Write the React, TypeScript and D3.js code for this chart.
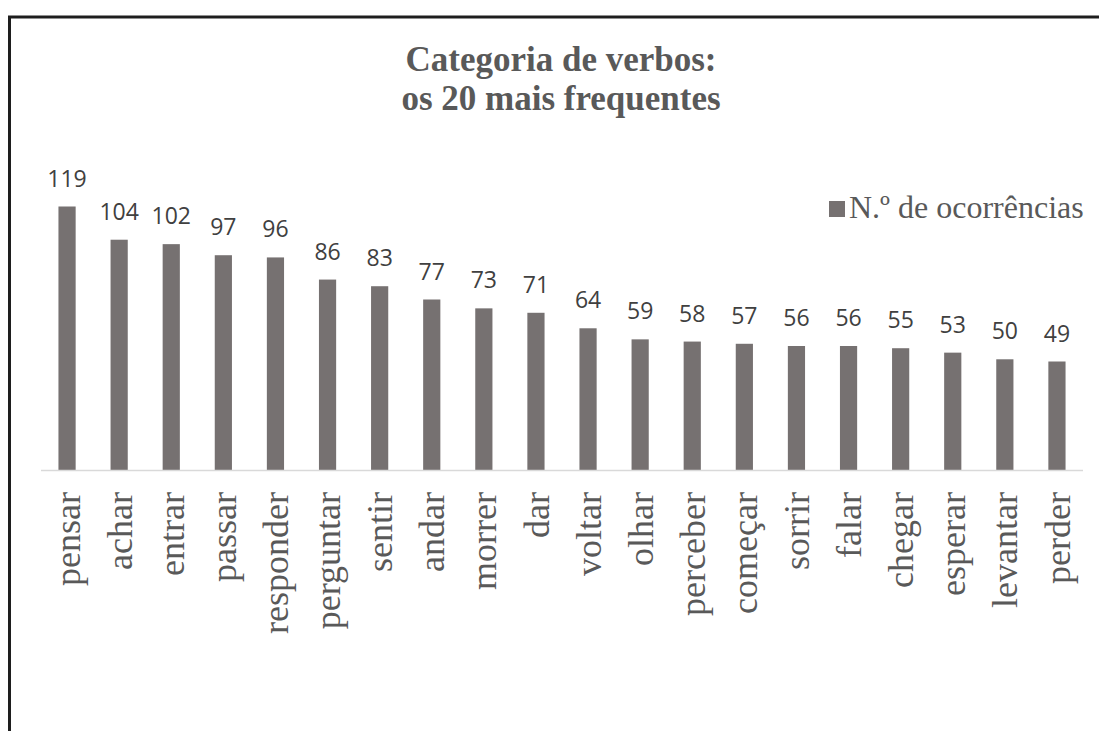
import React from "react";
import * as d3 from "d3";

const categories = [
  "pensar", "achar", "entrar", "passar", "responder", "perguntar", "sentir", "andar", "morrer", "dar",
  "voltar", "olhar", "perceber", "começar", "sorrir", "falar", "chegar", "esperar", "levantar", "perder",
];
const values = [119, 104, 102, 97, 96, 86, 83, 77, 73, 71, 64, 59, 58, 57, 56, 56, 55, 53, 50, 49];
const titleLines = ["Categoria de verbos:", "os 20 mais frequentes"];
const seriesName = "N.º de ocorrências";

const W = 1099;
const H = 731;
const BAR = "#767171";
const TEXT = "#595959";

export default function App() {
  const x = d3.scaleBand<string>().domain(categories).range([41, 1083]).paddingInner(0.67).paddingOuter(0.335);
  const y = d3.scaleLinear().domain([0, 140]).range([470, 160]);
  const base = y(0);
  return (
    <svg width={W} height={H} style={{ position: "absolute", left: 0, top: 0, background: "#fff" }}>
      <rect x={0} y={0} width={W} height={H} fill="#fff" />
      <path d={`M9.5,${H} V17 H${W}`} fill="none" stroke="#1e1e1e" strokeWidth={3} />
      <g fontFamily="'Liberation Serif', 'Times New Roman', serif" fontWeight="bold" fontSize={35} fill={TEXT} textAnchor="middle">
        {titleLines.map((t, i) => (
          <text key={i} x={561} y={71 + i * 39}>{t}</text>
        ))}
      </g>
      {categories.map((c, i) => {
        const bx = x(c)!;
        const cx = bx + x.bandwidth() / 2;
        return (
          <g key={c}>
            <rect x={bx} y={y(values[i])} width={x.bandwidth()} height={base - y(values[i])} fill={BAR} />
            <text x={cx} y={y(values[i]) - 20} textAnchor="middle" fontFamily="'Open Sans', sans-serif" fontSize={23} fill="#404040">
              {values[i]}
            </text>
            <text
              transform={`translate(${cx},492) rotate(-90)`}
              x={0}
              y={0}
              dy="0.35em"
              textAnchor="end"
              fontFamily="'Liberation Serif', 'Times New Roman', serif"
              fontSize={36}
              fill={TEXT}
            >
              {c}
            </text>
          </g>
        );
      })}
      <line x1={41} x2={1083} y1={base + 0.5} y2={base + 0.5} stroke="#d9d9d9" strokeWidth={1.5} />
      <rect x={829} y={201} width={16} height={16} fill={BAR} />
      <text x={849} y={218} fontFamily="'Liberation Serif', 'Times New Roman', serif" fontSize={32} fill={TEXT}>
        {seriesName}
      </text>
    </svg>
  );
}
